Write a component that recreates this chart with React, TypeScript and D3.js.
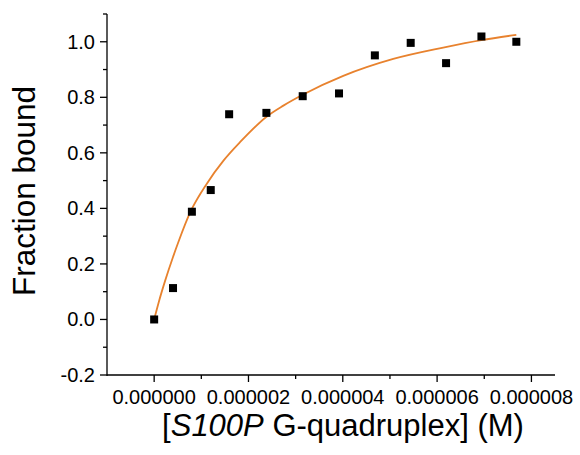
import React from "react";
import * as d3 from "d3";

// Measured data: concentration (M) vs fraction bound
const concentration = [0, 0.40e-6, 0.80e-6, 1.20e-6, 1.59e-6, 2.38e-6, 3.15e-6, 3.92e-6, 4.68e-6, 5.44e-6, 6.19e-6, 6.94e-6, 7.68e-6];
const fractionBound = [0, 0.113, 0.388, 0.466, 0.739, 0.744, 0.804, 0.814, 0.951, 0.996, 0.923, 1.019, 1.0];

// Fitted curve
const fitX = [0, 0.1e-6, 0.23e-6, 0.4e-6, 0.51e-6, 0.77e-6, 1.12e-6, 1.47e-6, 1.83e-6, 2.39e-6, 2.74e-6, 3.16e-6, 4.01e-6, 5.07e-6, 6.13e-6, 6.94e-6, 7.68e-6];
const fitY = [0, 0.064, 0.138, 0.225, 0.277, 0.388, 0.49, 0.572, 0.64, 0.731, 0.77, 0.81, 0.877, 0.938, 0.979, 1.006, 1.025];

const xMajorTicks = [0, 2e-6, 4e-6, 6e-6, 8e-6];
const xMinorTicks = [1e-6, 3e-6, 5e-6, 7e-6];
const yMajorTicks = [-0.2, 0, 0.2, 0.4, 0.6, 0.8, 1.0];
const yMinorTicks = [-0.1, 0.1, 0.3, 0.5, 0.7, 0.9, 1.1];

const xTitleItalic = "S100P";
const xTitleRest = " G-quadruplex] (M)";
const yTitle = "Fraction bound";

const W = 580, H = 455;
const left = 107, right = 555, top = 14, bottom = 375;
const FONT = "'Liberation Sans', Arial, sans-serif";

export default function App() {
  const x = d3.scaleLinear().domain([-1e-6, 8.5e-6]).range([left, right]);
  const y = d3.scaleLinear().domain([-0.2, 1.1]).range([bottom, top]);
  const fmtX = d3.format(".6f");
  const fmtY = (v: number) => d3.format(".1f")(v).replace("\u2212", "-");
  const line = d3.line<number>()
    .x((_, i) => x(fitX[i]))
    .y((d) => y(d))
    .curve(d3.curveMonotoneX);
  const sq = 8;
  return (
    <svg width={W} height={H} style={{ position: "absolute", left: 0, top: 0, background: "#fff" }}>
      <rect x={0} y={0} width={W} height={H} fill="#fff" />
      {/* axes */}
      <line x1={left} x2={left} y1={top} y2={bottom + 1} stroke="#000" strokeWidth={1.3} />
      <line x1={left} x2={right} y1={bottom} y2={bottom} stroke="#000" strokeWidth={1.3} />
      {xMajorTicks.map((t) => (
        <g key={"xm" + t}>
          <line x1={x(t)} x2={x(t)} y1={bottom} y2={bottom + 7} stroke="#000" strokeWidth={1.3} />
          <text x={x(t)} y={bottom + 29} textAnchor="middle" fontSize={20} fontFamily={FONT} fill="#000">{fmtX(t)}</text>
        </g>
      ))}
      {xMinorTicks.map((t) => (
        <line key={"xn" + t} x1={x(t)} x2={x(t)} y1={bottom} y2={bottom + 4} stroke="#000" strokeWidth={1.3} />
      ))}
      {yMajorTicks.map((t) => (
        <g key={"ym" + t}>
          <line x1={left - 7} x2={left} y1={y(t)} y2={y(t)} stroke="#000" strokeWidth={1.3} />
          <text x={95} y={y(t) + 7} textAnchor="end" fontSize={20} fontFamily={FONT} fill="#000">{fmtY(t)}</text>
        </g>
      ))}
      {yMinorTicks.map((t) => (
        <line key={"yn" + t} x1={left - 4} x2={left} y1={y(t)} y2={y(t)} stroke="#000" strokeWidth={1.3} />
      ))}
      {/* fit curve */}
      <path d={line(fitY) || ""} fill="none" stroke="#E8822E" strokeWidth={1.8} />
      {/* data points */}
      {concentration.map((c, i) => (
        <rect key={"p" + i} x={x(c) - sq / 2} y={y(fractionBound[i]) - sq / 2} width={sq} height={sq} fill="#000" />
      ))}
      {/* titles */}
      <text x={(left + right) / 2 + 12} y={436} textAnchor="middle" fontSize={31} fontFamily={FONT} fill="#000">
        [<tspan fontStyle="italic">{xTitleItalic}</tspan>{xTitleRest}
      </text>
      <text transform={`translate(35, 191) rotate(-90)`} textAnchor="middle" fontSize={31.5} fontFamily={FONT} fill="#000">
        {yTitle}
      </text>
    </svg>
  );
}
